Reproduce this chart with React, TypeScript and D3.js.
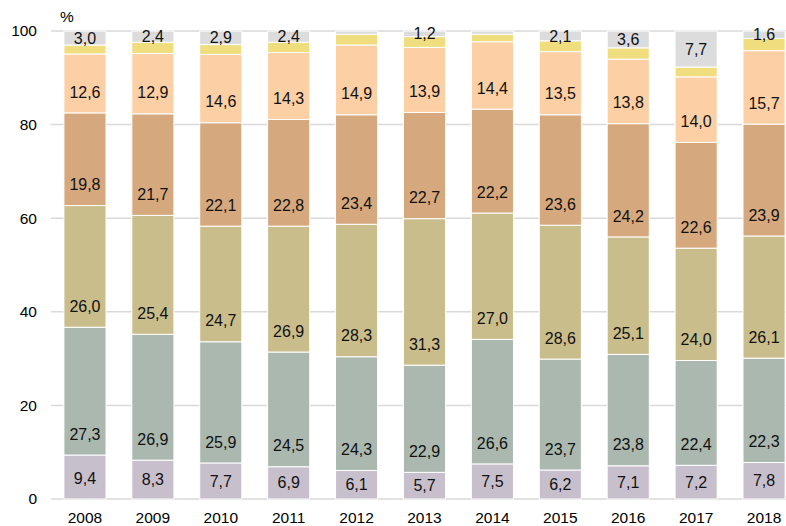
import React from "react";
import * as d3 from "d3";

const years = ["2008","2009","2010","2011","2012","2013","2014","2015","2016","2017","2018"];
const s1 = [9.4, 8.3, 7.7, 6.9, 6.1, 5.7, 7.5, 6.2, 7.1, 7.2, 7.8];
const s2 = [27.3, 26.9, 25.9, 24.5, 24.3, 22.9, 26.6, 23.7, 23.8, 22.4, 22.3];
const s3 = [26.0, 25.4, 24.7, 26.9, 28.3, 31.3, 27.0, 28.6, 25.1, 24.0, 26.1];
const s4 = [19.8, 21.7, 22.1, 22.8, 23.4, 22.7, 22.2, 23.6, 24.2, 22.6, 23.9];
const s5 = [12.6, 12.9, 14.6, 14.3, 14.9, 13.9, 14.4, 13.5, 13.8, 14.0, 15.7];
const s6 = [1.9, 2.4, 2.1, 2.2, 2.3, 2.3, 1.6, 2.3, 2.4, 2.1, 2.6];
const s7 = [3.0, 2.4, 2.9, 2.4, 0.7, 1.2, 0.7, 2.1, 3.6, 7.7, 1.6];
const s7Labelled = [true, true, true, true, false, true, false, true, true, true, true];
const yTicks = [0, 20, 40, 60, 80, 100];

const seriesKeys = ["s1","s2","s3","s4","s5","s6","s7"];
const seriesValues = [s1, s2, s3, s4, s5, s6, s7];
const colors = ["#C8BFCD", "#AAB8AF", "#C9BD8B", "#D5A87E", "#FCCFA4", "#EFDD7E", "#DCDCDC"];

const W = 786, H = 526;
const fontFamily = "'Liberation Sans', Arial, sans-serif";

export default function App() {
  const rows = years.map((y, i) => {
    const r: any = { year: y };
    seriesKeys.forEach((k, j) => (r[k] = seriesValues[j][i]));
    return r;
  });
  const stacked = d3.stack().keys(seriesKeys)(rows);
  const x = d3.scaleBand().domain(years).range([51, 798]).paddingInner(0.38).paddingOuter(0.19);
  const y = d3.scaleLinear().domain([0, 100]).range([499, 31]);
  const fmt = (v: number) => v.toFixed(1).replace(".", ",");

  return (
    <svg width={W} height={H} style={{ position: "absolute", left: 0, top: 0, background: "#fff" }} fontFamily={fontFamily}>
      {yTicks.map((t) => (
        <g key={t}>
          <line x1={51} x2={W} y1={y(t)} y2={y(t)} stroke="#D9D9D9" strokeWidth={1.5} />
          <text x={37} y={y(t)} dy="0.35em" textAnchor="end" fontSize={15.5} fill="#000">{t}</text>
        </g>
      ))}
      <text x={67} y={17} dy="0.35em" textAnchor="middle" fontSize={15.5} fill="#000">%</text>
      {stacked.map((layer, j) => (
        <g key={layer.key}>
          {layer.map((d, i) => (
            <rect key={i} x={x(years[i])} width={x.bandwidth()} y={y(d[1])} height={y(d[0]) - y(d[1])}
              fill={colors[j]} stroke="#fff" strokeWidth={1} />
          ))}
        </g>
      ))}
      {stacked.map((layer, j) => (
        <g key={"l" + layer.key}>
          {layer.map((d, i) => {
            if (j === 5) return null;
            if (j === 6 && !s7Labelled[i]) return null;
            const bottom = y(d[0]);
            const center = (y(d[0]) + y(d[1])) / 2;
            const cy = Math.max(bottom - 21, center);
            return (
              <text key={i} x={(x(years[i]) as number) + x.bandwidth() / 2} y={cy} dy="0.35em"
                textAnchor="middle" fontSize={16} fill="#111">{fmt(seriesValues[j][i])}</text>
            );
          })}
        </g>
      ))}
      {years.map((yr) => (
        <text key={yr} x={(x(yr) as number) + x.bandwidth() / 2} y={518} dy="0.35em" textAnchor="middle" fontSize={15.5} fill="#000">{yr}</text>
      ))}
    </svg>
  );
}
